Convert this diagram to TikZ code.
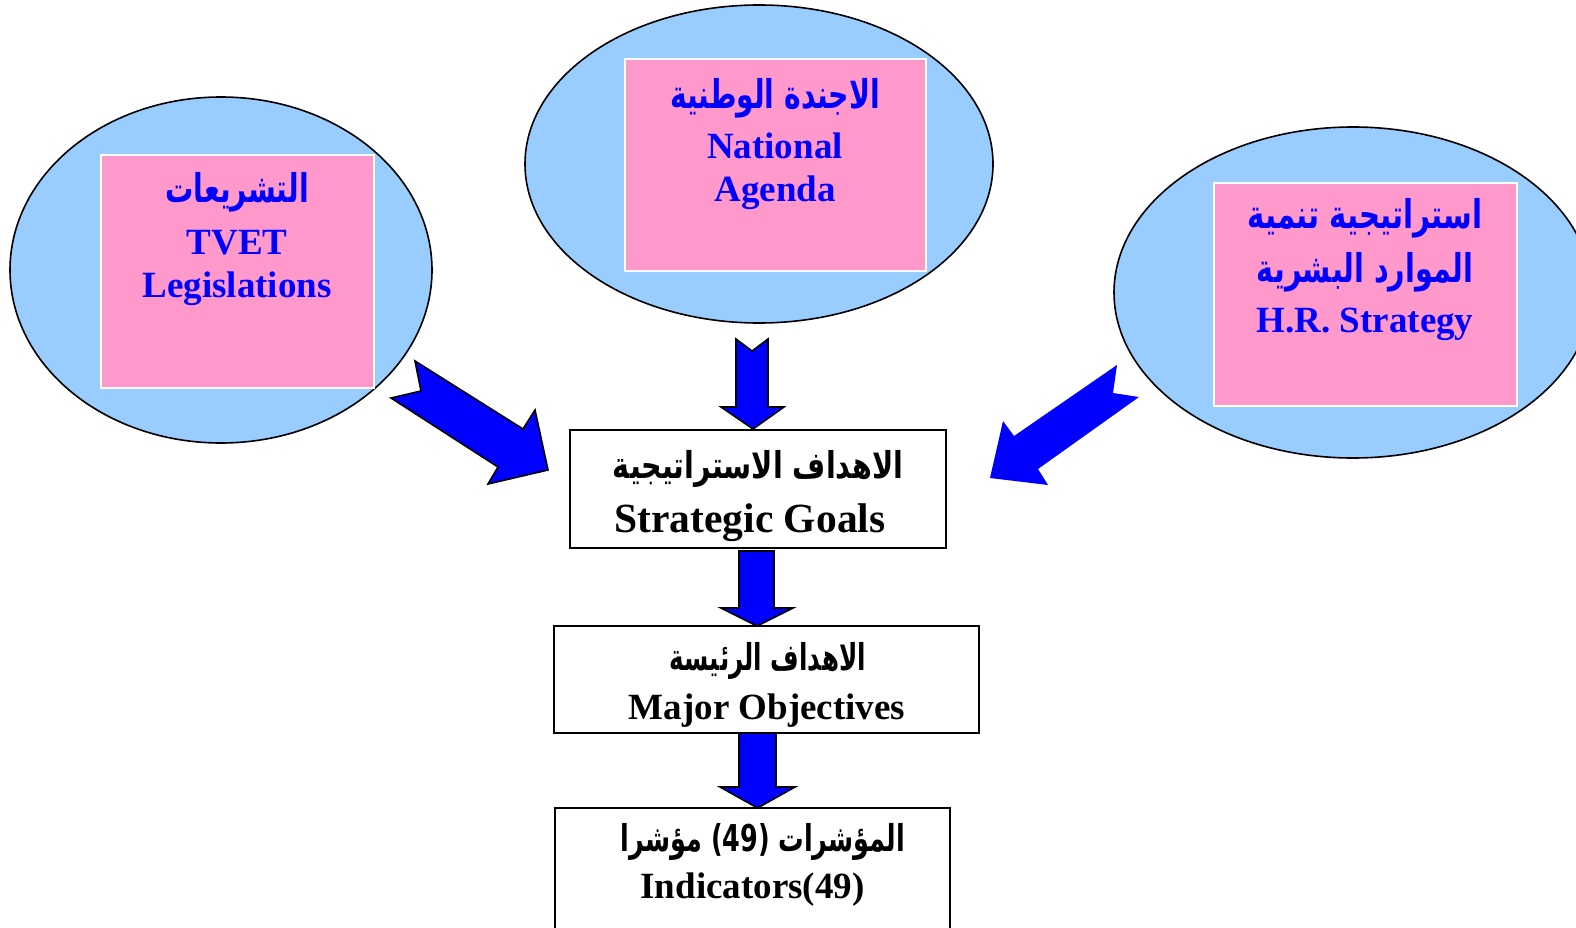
\documentclass[tikz,border=0pt]{standalone}
\usepackage{fontspec}
\setmainfont{Liberation Serif}
\newfontfamily\arfont[Script=Arabic]{DejaVu Sans}
\TeXXeTstate=1
\definecolor{ellblue}{HTML}{99CCFF}
\definecolor{boxpink}{HTML}{FF99CC}
\definecolor{arrblue}{HTML}{0000FF}
\begin{document}
\begin{tikzpicture}[x=1pt,y=-1pt,
  ell/.style={draw=black,line width=1.6pt,fill=ellblue},
  pinkbox/.style={draw=white,line width=1.4pt,fill=boxpink},
  whitebox/.style={draw=black,line width=1.8pt,fill=white},
  blockarrow/.style={fill=arrblue,draw=black,line width=1.6pt,line join=miter},
  bluetxt/.style={anchor=base,inner sep=0pt,text=arrblue,font=\bfseries\fontsize{37}{37}\selectfont},
  blueartxt/.style={anchor=base,inner sep=0pt,text=arrblue,font=\arfont\bfseries\fontsize{30}{30}\selectfont},
  blacktxt/.style={anchor=base,inner sep=0pt,text=black,font=\bfseries\fontsize{37}{37}\selectfont},
  blackartxt/.style={anchor=base,inner sep=0pt,text=black,font=\arfont\bfseries\fontsize{28}{28}\selectfont}]
\useasboundingbox (0,0) rectangle (1576,928);
\clip (0,0) rectangle (1576,928);
\fill[white] (0,0) rectangle (1576,928);

% ellipses
\draw[ell] (221,270) ellipse [x radius=211, y radius=173];
\draw[ell] (759,164) ellipse [x radius=234, y radius=159];
\draw[ell] (1353,292.5) ellipse [x radius=239, y radius=165.5];

% pink boxes
\draw[pinkbox] (101,155) rectangle (374,388);
\draw[pinkbox] (625,59) rectangle (926,271);
\draw[pinkbox] (1214,183) rectangle (1517,406);

% left box texts
\node[blueartxt] (l1) at (237,203) {\scalebox{0.94}[1.32]{\beginR التشريعات\endR}};
\node[bluetxt] (l2) at (237,254) {TVET};
\node[bluetxt] (l3) at (237,297) {Legislations};

% middle box texts
\node[blueartxt] (m1) at (775,109) {\scalebox{0.94}[1.32]{\beginR الاجندة الوطنية\endR}};
\node[bluetxt] (m2) at (775,159) {National};
\node[bluetxt] (m3) at (775,201) {Agenda};

% right box texts
\node[blueartxt] (r1) at (1365,229) {\scalebox{0.975}[1.32]{\beginR استراتيجية تنمية\endR}};
\node[blueartxt] (r2) at (1365,282) {\scalebox{0.955}[1.32]{\beginR الموارد البشرية\endR}};
\node[bluetxt] (r3) at (1365,332) {H.R. Strategy};

% white boxes
\draw[whitebox] (570,430) rectangle (946,548);
\draw[whitebox] (554,626) rectangle (979,733);
\draw[whitebox] (555,808) rectangle (950,940);

\node[blackartxt] (s1) at (758,478) {\scalebox{1.02}[1.32]{\beginR الاهداف الاستراتيجية\endR}};
\node[blacktxt,font=\bfseries\fontsize{41.5}{41.5}\selectfont] (s2) at (750,532) {Strategic Goals};

\node[blackartxt] (o1) at (768,670) {\scalebox{0.88}[1.32]{\beginR الاهداف الرئيسة\endR}};
\node[blacktxt] (o2) at (767,719) {Major Objectives};

\node[blackartxt] (i1) at (763,851) {\scalebox{0.91}[1.32]{\beginR المؤشرات \beginL(49)\endL{} مؤشرا\endR}};
\node[blacktxt] (i2) at (752.5,898) {Indicators(49)};

% down arrow 1 (notched tail)
\draw[blockarrow] (736,339) -- (752,351) -- (768,339) -- (768,407) -- (784,407)
  -- (753,429) -- (721,407) -- (736,407) -- cycle;
% down arrow 2
\draw[blockarrow] (739,551) -- (774,551) -- (774,608) -- (793,608)
  -- (757,626) -- (721,608) -- (739,608) -- cycle;
% down arrow 3
\draw[blockarrow] (739,733) -- (776,733) -- (776,787) -- (795,787)
  -- (757.5,808) -- (720,787) -- (739,787) -- cycle;

% left diagonal arrow
\draw[blockarrow] (415,361) -- (523,429) -- (535,410) -- (548,470) -- (488,484)
  -- (498,467) -- (391,398) -- (421,391) -- cycle;
% right diagonal arrow (no outline)
\fill[arrblue] (1117,365) -- (1113,393) -- (1139,397) -- (1038,469) -- (1048,485)
  -- (990,478) -- (1003,421) -- (1014,436) -- cycle;
\end{tikzpicture}
\end{document}
